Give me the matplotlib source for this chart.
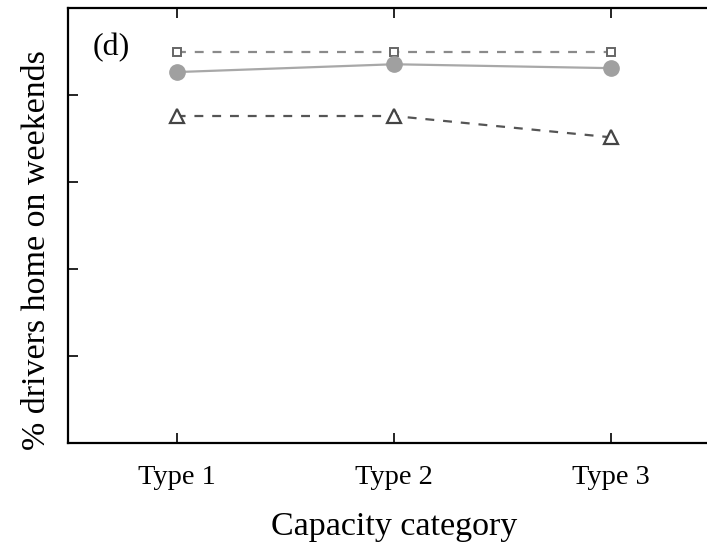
import numpy as np
import matplotlib.pyplot as plt

plt.rcParams['font.family'] = ['Liberation Serif', 'DejaVu Serif']

# Data (y in %)
categories = ['Type 1', 'Type 2', 'Type 3']
squares = [90, 90, 90]
circles = [85.3, 87.1, 86.2]
triangles = [75.2, 75.2, 70.3]
yticks = [20, 40, 60, 80]

x = np.arange(1, len(categories) + 1)

fig = plt.figure(figsize=(7.07, 5.43), dpi=100)
ax = fig.add_axes([0.0962, 0.184, 0.922, 0.801])

ax.plot(x, squares, color='#8a8a8a', ls=(0, (4, 4)), lw=1.6,
        marker='s', ms=6, mfc='white', mec='#666666', mew=1.4)
ax.plot(x, circles, color='#a8a8a8', ls='-', lw=1.6,
        marker='o', ms=11, mfc='#a0a0a0', mec='#a0a0a0')
ax.plot(x, triangles, color='#555555', ls=(0, (4, 4)), lw=1.6,
        marker='^', ms=10, mfc='white', mec='#444444', mew=1.6)

ax.set_xlim(0.5, 3.5)
ax.set_ylim(0, 100)
ax.set_xticks(x)
ax.set_xticklabels(categories, fontsize=20.5)
ax.set_yticks(yticks)
ax.set_yticklabels([])
ax.tick_params(direction='in', length=7, width=1.2, top=True, right=True, pad=16)

for sp in ax.spines.values():
    sp.set_linewidth(1.6)

ax.set_xlabel('Capacity category', fontsize=24.5, labelpad=15)
ax.set_ylabel('% drivers home on weekends', fontsize=24.5, labelpad=0)
ax.yaxis.set_label_coords(-0.025, 0.444)
ax.text(0.037, 0.91, '(d)', transform=ax.transAxes, fontsize=23, va='center', ha='left')

fig.savefig('out.png', dpi=100)
